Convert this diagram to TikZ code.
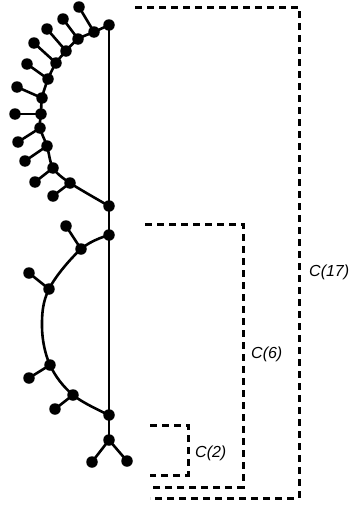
\documentclass[tikz,border=0pt]{standalone}
\usepackage{fontspec}
\setmainfont{Liberation Sans}
\begin{document}
\begin{tikzpicture}[x=1pt,y=-1pt,
  dot/.style={circle,fill=black,inner sep=0pt,minimum size=11.5pt},
  edge/.style={line width=2.6pt},
  brk/.style={line width=3pt,dash pattern=on 7pt off 5pt},
  lbl/.style={font=\fontsize{16}{18}\selectfont\itshape,inner sep=0pt}]
\useasboundingbox (0,0) rectangle (351,506);
% spine nodes
\node[dot] (t0) at (109,25) {};
\node[dot] (m1) at (109,206) {};
\node[dot] (m2) at (109,235) {};
\node[dot] (m3) at (109,415) {};
\node[dot] (m4) at (109,440) {};
% upper arc
\node[dot] (a1) at (94,32) {};
\node[dot] (a2) at (78,39) {};
\node[dot] (a3) at (66,51) {};
\node[dot] (a4) at (56,63) {};
\node[dot] (a5) at (48,79) {};
\node[dot] (a6) at (42,98) {};
\node[dot] (a7) at (41,114) {};
\node[dot] (a8) at (40,128) {};
\node[dot] (a9) at (47,146) {};
\node[dot] (a10) at (53,168) {};
\node[dot] (a11) at (70,183) {};
\node[dot] (l1) at (79,7) {};
\node[dot] (l2) at (63,19) {};
\node[dot] (l3) at (47,29) {};
\node[dot] (l4) at (34,43) {};
\node[dot] (l5) at (27,64) {};
\node[dot] (l6) at (17,87) {};
\node[dot] (l7) at (15,114) {};
\node[dot] (l8) at (18,142) {};
\node[dot] (l9) at (25,161) {};
\node[dot] (l10) at (35,182) {};
\node[dot] (l11) at (53,196) {};
% lower arc
\node[dot] (b1) at (81,249) {};
\node[dot] (b2) at (49,289) {};
\coordinate (bm) at (42,327);
\node[dot] (b3) at (50,365) {};
\node[dot] (b4) at (73,395) {};
\node[dot] (lb1) at (66,226) {};
\node[dot] (lb2) at (29,273) {};
\node[dot] (lb3) at (29,378) {};
\node[dot] (lb4) at (55,409) {};
% bottom leaves
\node[dot] (lc1) at (92,462) {};
\node[dot] (lc2) at (127,461) {};
% edges
\draw[edge] (t0.center) -- (m1.center) -- (m2.center) -- (m3.center) -- (m4.center);
\draw[edge] plot[smooth,tension=0.5] coordinates {(t0.center) (a1.center) (a2.center) (a3.center) (a4.center) (a5.center) (a6.center) (a7.center) (a8.center) (a9.center) (a10.center) (a11.center) (m1.center)};
\draw[edge] plot[smooth,tension=0.6] coordinates {(m2.center) (b1.center) (b2.center) (bm) (b3.center) (b4.center) (m3.center)};
\foreach \p/\q in {a1/l1,a2/l2,a3/l3,a4/l4,a5/l5,a6/l6,a7/l7,a8/l8,a9/l9,a10/l10,a11/l11,b1/lb1,b2/lb2,b3/lb3,b4/lb4,m4/lc1,m4/lc2}
  \draw[edge] (\p.center) -- (\q.center);
% brackets
\coordinate (c17a) at (135,7);
\coordinate (c17b) at (299,7);
\coordinate (c17c) at (299,498);
\coordinate (c17d) at (150,498);
\draw[brk] (c17a) -- (c17b) -- (c17c) -- (c17d);
\coordinate (c6a) at (145,224);
\coordinate (c6b) at (243,224);
\coordinate (c6c) at (243,487);
\coordinate (c6d) at (150,487);
\draw[brk] (c6a) -- (c6b) -- (c6c) -- (c6d);
\coordinate (c2a) at (150,425);
\coordinate (c2b) at (188,425);
\coordinate (c2c) at (188,475);
\coordinate (c2d) at (150,475);
\draw[brk] (c2a) -- (c2b) -- (c2c) -- (c2d);
\node[lbl,anchor=west] (t17) at (309,272) {C(17)};
\node[lbl,anchor=west] (t6) at (251,354) {C(6)};
\node[lbl,anchor=west] (t2) at (195,453) {C(2)};
\end{tikzpicture}
\end{document}
